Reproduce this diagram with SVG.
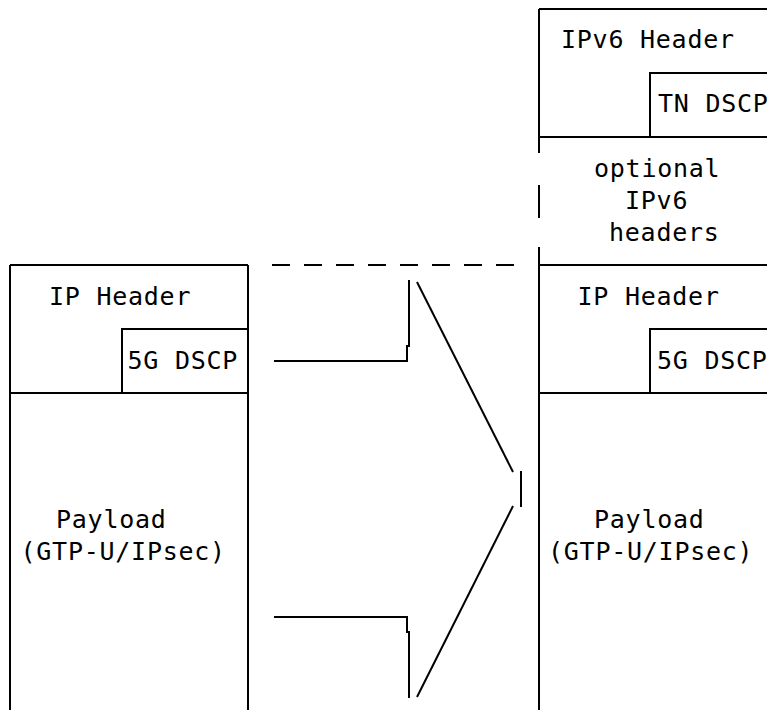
<svg xmlns="http://www.w3.org/2000/svg" width="767" height="710" viewBox="0 0 767 710">
<style>
.ln{fill:none;stroke:#000;stroke-width:2;stroke-linecap:butt}
.t{font-family:"DejaVu Sans Mono","Liberation Mono",monospace;font-size:25px;letter-spacing:0.75px;fill:#000}
</style>
<rect x="0" y="0" width="767" height="710" fill="#fff"/>
<g id="left-packet">
  <path class="ln" d="M10,265 V710 M248,265 V710 M10,265 H248 M10,393 H248 M122,393 V329 H248"/>
  <text class="t" x="49" y="305">IP Header</text>
  <text class="t" x="127.5" y="369">5G DSCP</text>
  <text class="t" x="56" y="528">Payload</text>
  <text class="t" x="20.5" y="560">(GTP-U/IPsec)</text>
</g>
<g id="right-packet">
  <path class="ln" d="M539,9 V153 M539,185 V218 M539,247 V710 M539,9 H767 M539,137 H767 M650,137 V73 H767 M539,265 H767 M539,393 H767 M650,393 V329 H767"/>
  <text class="t" x="561" y="48">IPv6 Header</text>
  <text class="t" x="658" y="112">TN DSCP</text>
  <text class="t" x="594" y="177">optional</text>
  <text class="t" x="625" y="209">IPv6</text>
  <text class="t" x="609" y="241">headers</text>
  <text class="t" x="577.5" y="305">IP Header</text>
  <text class="t" x="657" y="369">5G DSCP</text>
  <text class="t" x="594" y="528">Payload</text>
  <text class="t" x="548" y="560">(GTP-U/IPsec)</text>
</g>
<g id="connectors">
  <path class="ln" d="M272,265 H514" stroke-dasharray="18 14"/>
  <path class="ln" d="M274,361 H407 V346 H409 V280"/>
  <path class="ln" d="M274,617 H407 V632 H409 V698"/>
  <path class="ln" d="M417,282 L513,472"/>
  <path class="ln" d="M521,471 V507"/>
  <path class="ln" d="M513,506 L417,697"/>
</g>
</svg>
